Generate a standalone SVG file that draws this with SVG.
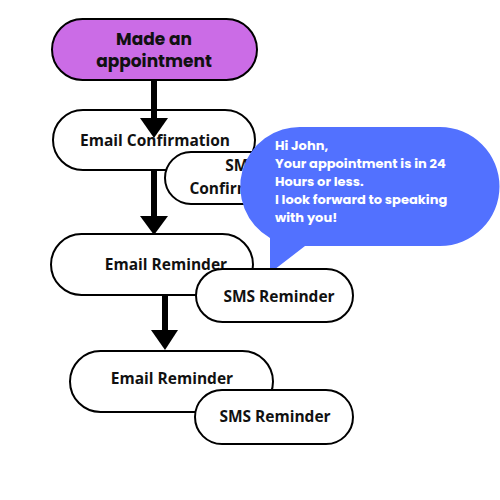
<svg xmlns="http://www.w3.org/2000/svg" width="500" height="500" viewBox="0 0 500 500">
<style>
.pill{fill:#fff;stroke:#000;stroke-width:2}
.lbl{font-family:"Open Sans","Liberation Sans",sans-serif;font-weight:700;font-size:15.5px;fill:#111;text-anchor:middle}
.top{font-family:"Poppins","Open Sans","Liberation Sans",sans-serif;font-weight:700;font-size:17px;fill:#111;text-anchor:middle}
.bub{font-family:"Poppins","Open Sans","Liberation Sans",sans-serif;font-weight:700;font-size:13px;fill:#fff}
.conn line{stroke:#000;stroke-width:6}
.conn path{fill:#000}
</style>
<rect width="500" height="500" fill="#fff"/>
<g id="made-appointment">
<rect x="52" y="19" width="205" height="61" rx="30.5" fill="#cb6ce6" stroke="#000" stroke-width="2"/>
<text class="top" x="154" y="45">Made an</text>
<text class="top" x="154" y="67">appointment</text>
</g>
<g id="email-confirmation">
<rect class="pill" x="53" y="110" width="202" height="60" rx="30"/>
<text class="lbl" x="155" y="146">Email Confirmation</text>
</g>
<g id="email-reminder-1">
<rect class="pill" x="51" y="234" width="202" height="61" rx="30.5"/>
<text class="lbl" x="166" y="270">Email Reminder</text>
</g>
<g id="email-reminder-2">
<rect class="pill" x="70" y="351" width="203" height="61" rx="30.5"/>
<text class="lbl" x="172" y="384">Email Reminder</text>
</g>
<g class="conn" id="connectors">
<line x1="154" y1="80" x2="154" y2="122"/>
<path d="M140 118 L168 118 L154 138 Z"/>
<line x1="154" y1="170" x2="154" y2="220"/>
<path d="M140 216 L168 216 L154 235 Z"/>
<line x1="165" y1="295" x2="165" y2="334"/>
<path d="M151 330 L178 330 L165 350 Z"/>
</g>
<g id="sms-confirmation">
<rect class="pill" x="165" y="152" width="150" height="52" rx="26"/>
<text class="lbl" x="241" y="171">SMS</text>
<text class="lbl" x="241" y="194">Confirmation</text>
</g>
<g id="speech-bubble">
<path d="M302 127 L440 127 A59.5 59.5 0 0 1 440 246 L305 246 L270 273 L270 238 A59.5 59.5 0 0 1 302 127 Z" fill="#5271ff"/>
<text class="bub" x="275" y="150">Hi John,</text>
<text class="bub" x="275" y="168">Your appointment is in 24</text>
<text class="bub" x="275" y="186">Hours or less.</text>
<text class="bub" x="275" y="204">I look forward to speaking</text>
<text class="bub" x="275" y="222">with you!</text>
</g>
<g id="sms-reminder-1">
<rect class="pill" x="196" y="269" width="157" height="53" rx="26.5"/>
<text class="lbl" x="279" y="302">SMS Reminder</text>
</g>
<g id="sms-reminder-2">
<rect class="pill" x="195" y="390" width="158" height="54" rx="27"/>
<text class="lbl" x="275" y="422">SMS Reminder</text>
</g>
</svg>
